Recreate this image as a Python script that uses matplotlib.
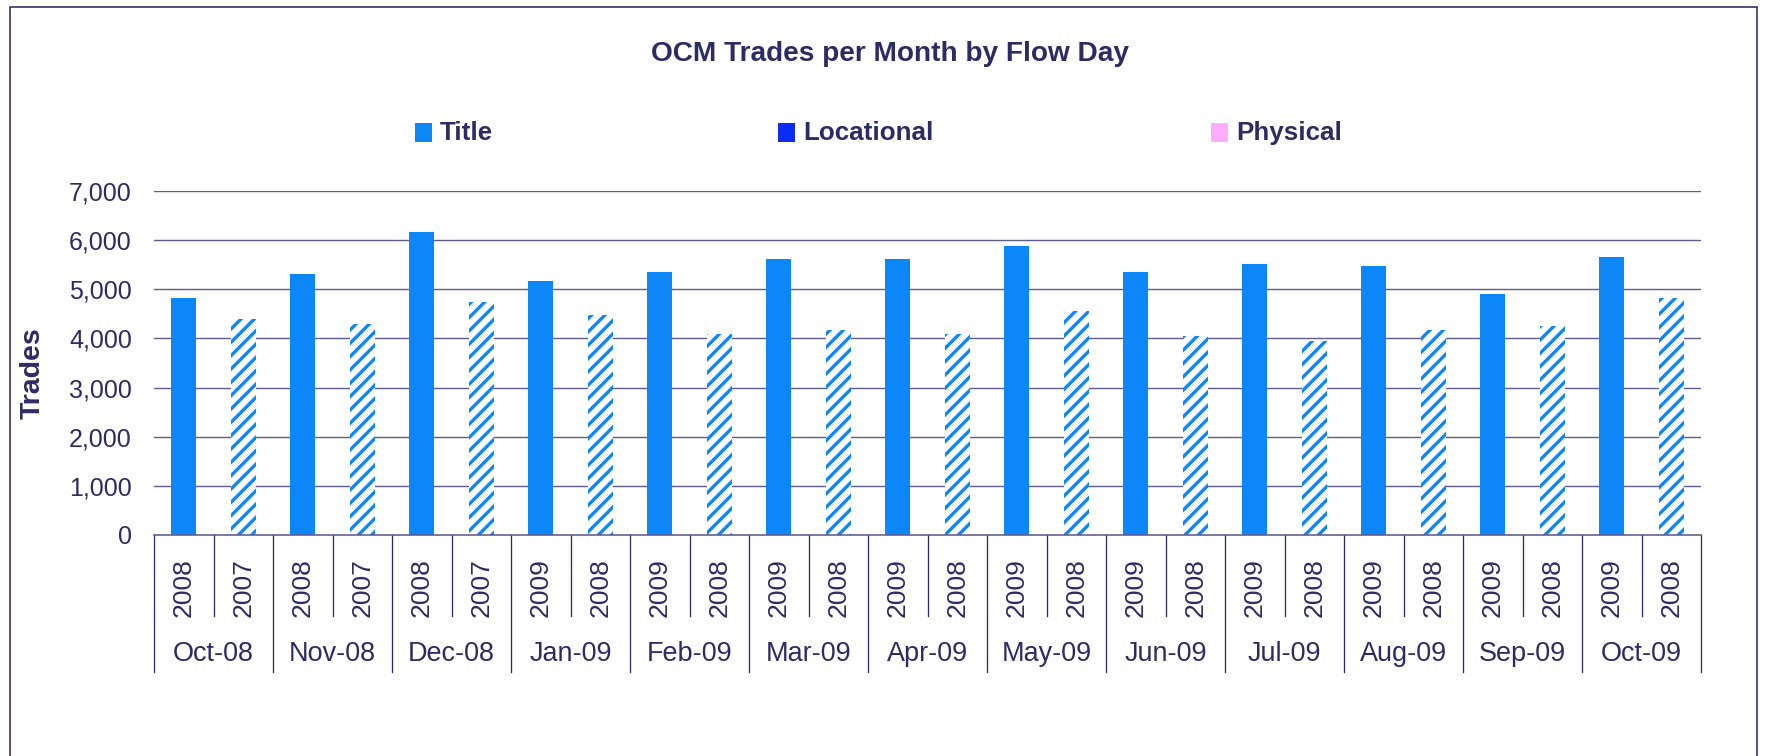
import matplotlib
matplotlib.use("Agg")
import matplotlib.pyplot as plt
from matplotlib.patches import Rectangle
from matplotlib.ticker import FuncFormatter

# ---------------- data ----------------
months = ["Oct-08", "Nov-08", "Dec-08", "Jan-09", "Feb-09", "Mar-09", "Apr-09",
          "May-09", "Jun-09", "Jul-09", "Aug-09", "Sep-09", "Oct-09"]
current_years = ["2008", "2008", "2008", "2009", "2009", "2009", "2009",
                 "2009", "2009", "2009", "2009", "2009", "2009"]
prior_years = ["2007", "2007", "2007", "2008", "2008", "2008", "2008",
               "2008", "2008", "2008", "2008", "2008", "2008"]
title_current = [4830, 5320, 6170, 5170, 5360, 5620, 5620, 5890, 5360, 5520, 5480, 4910, 5660]
title_prior = [4400, 4300, 4750, 4480, 4090, 4180, 4090, 4560, 4050, 3950, 4180, 4260, 4830]
legend_labels = ["Title", "Locational", "Physical"]
y_ticks = [0, 1000, 2000, 3000, 4000, 5000, 6000, 7000]

# ---------------- style ----------------
DPI = 120
PX = 72.0 / DPI  # points per pixel
W, H = 1766, 756
TEXT = "#2D2B63"
GRID = "#5F5B8A"
BLUE = "#0B87F9"
LOC_BLUE = "#0A2CF5"
PINK = "#FFAEFF"

plt.rcParams["font.family"] = ["Liberation Sans", "DejaVu Sans"]
plt.rcParams["hatch.linewidth"] = 3.3 * PX

fig = plt.figure(figsize=(W / DPI, H / DPI), dpi=DPI)
fig.patch.set_facecolor("white")

ax_l, ax_r, ax_t, ax_b = 154, 1701, 191, 535
ax = fig.add_axes([ax_l / W, 1 - ax_b / H, (ax_r - ax_l) / W, (ax_b - ax_t) / H])

n = len(months)
pos_cur = [2 * i for i in range(n)]
pos_pri = [2 * i + 1 for i in range(n)]
bw = 0.42

ax.bar(pos_cur, title_current, width=bw, color=BLUE, linewidth=0, zorder=3)
ax.bar(pos_pri, title_prior, width=bw, facecolor="white", edgecolor=BLUE,
       hatch="///", linewidth=0, zorder=3)

ax.set_xlim(-0.5, 2 * n - 0.5)
ax.set_ylim(0, 7000)
ax.set_yticks(y_ticks)
ax.yaxis.set_major_formatter(FuncFormatter(lambda v, p: f"{int(v):,}"))
ax.tick_params(axis="y", length=0, pad=22 * PX, labelsize=25 * PX, labelcolor=TEXT)
ax.set_xticks([])
for t in y_ticks[1:]:
    ax.axhline(t, color=GRID, linewidth=1.4 * PX, zorder=1)
for s in ["top", "right", "left"]:
    ax.spines[s].set_visible(False)
ax.spines["bottom"].set_color(GRID)
ax.spines["bottom"].set_linewidth(1.6 * PX)
ax.spines["bottom"].set_zorder(4)

ax.set_ylabel("Trades", fontsize=28.5 * PX, fontweight="bold", color=TEXT, labelpad=0)
ax.yaxis.set_label_coords((46 - ax_l) / (ax_r - ax_l), 0.47)

# ---------------- category axis ----------------
axh = ax_b - ax_t
tr = ax.get_xaxis_transform()
def fy(py):
    return (ax_b - py) / axh

for i in range(n):
    ax.text(pos_cur[i], fy(588), current_years[i], rotation=90, ha="center", va="center",
            fontsize=26.5 * PX, color=TEXT, transform=tr, clip_on=False)
    ax.text(pos_pri[i], fy(588), prior_years[i], rotation=90, ha="center", va="center",
            fontsize=26.5 * PX, color=TEXT, transform=tr, clip_on=False)
    ax.text((pos_cur[i] + pos_pri[i]) / 2, fy(654), months[i], ha="center", va="center",
            fontsize=27 * PX, color=TEXT, transform=tr, clip_on=False)

for b in range(2 * n + 1):
    x = b - 0.5
    end = fy(672) if b % 2 == 0 else fy(616)
    ax.plot([x, x], [0, end], color=TEXT, linewidth=1.3 * PX, transform=tr, clip_on=False)

# ---------------- title ----------------
fig.text(890 / W, 1 - 54 / H, "OCM Trades per Month by Flow Day", ha="center", va="center",
         fontsize=28 * PX, fontweight="bold", color=TEXT)

# ---------------- legend ----------------
leg_colors = [BLUE, LOC_BLUE, PINK]
sq_x = [415, 778, 1211]
for lab, col, sx in zip(legend_labels, leg_colors, sq_x):
    fig.patches.append(Rectangle((sx / W, 1 - 142 / H), 17 / W, 19 / H,
                                 transform=fig.transFigure, facecolor=col, edgecolor="none"))
    fig.text((sx + 25) / W, 1 - 133 / H, lab, ha="left", va="center",
             fontsize=26 * PX, fontweight="bold", color=TEXT)

# ---------------- outer frame ----------------
fig.patches.append(Rectangle((10 / W, -0.2), (1757 - 10) / W, 1.2 - 7 / H,
                             transform=fig.transFigure, fill=False, edgecolor=TEXT,
                             linewidth=1.6 * PX))

fig.savefig("out.png", dpi=DPI, facecolor="white")
